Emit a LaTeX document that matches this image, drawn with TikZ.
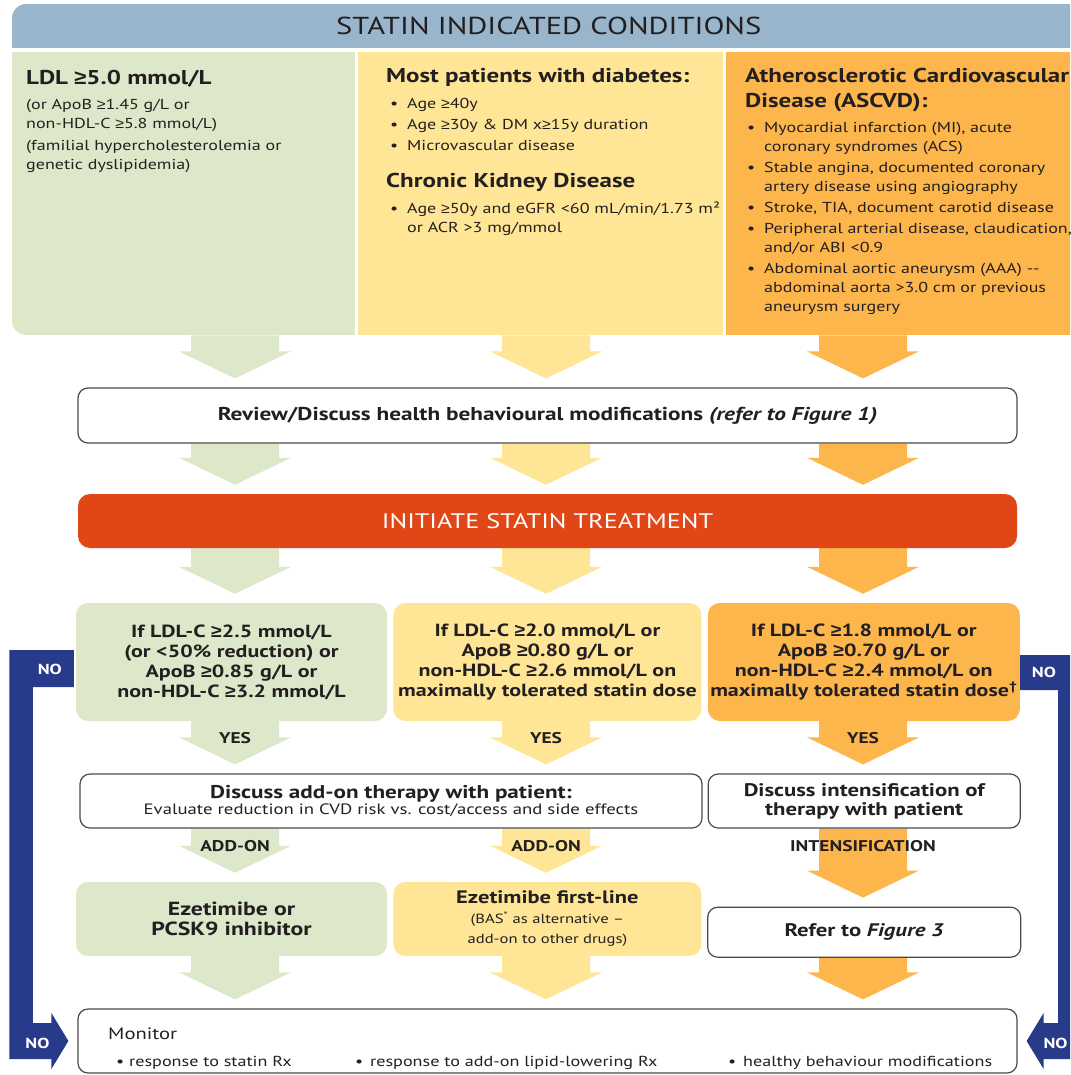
\documentclass[tikz,border=0pt]{standalone}
\usepackage{fontspec}
\setmainfont{PT Sans}[FakeStretch=1.25]
\newfontfamily\gqfont{Liberation Sans}[FakeStretch=1.1]
\usepackage{xcolor}
\usepackage{tikz}
\usetikzlibrary{positioning, calc, backgrounds}

\definecolor{hdrblue}{HTML}{98B5CC}
\definecolor{ldlgreen}{HTML}{DDE8CA}
\definecolor{dmyellow}{HTML}{FFE596}
\definecolor{cvdorange}{HTML}{FDB64C}
\definecolor{statinred}{HTML}{E14716}
\definecolor{nonavy}{HTML}{283B8A}
\definecolor{ink}{HTML}{231F20}
\definecolor{rim}{HTML}{4A4A4A}

\newcommand{\fs}[2]{\fontsize{#1}{#2}\selectfont}
\newcommand{\gq}{{\gqfont ≥}}
\newcommand{\bul}{\makebox[17pt][l]{\textbullet}}
\newcommand{\blockarrow}[4]{%
  \fill[#1] ([xshift=-44pt]#2 |- #3.south) -- ([xshift=44pt]#2 |- #3.south)
    -- ([xshift=44pt,yshift=36pt]#2 |- #4.north) -- ([xshift=56pt,yshift=36pt]#2 |- #4.north)
    -- ([yshift=9pt]#2 |- #4.north) -- ([xshift=-56pt,yshift=36pt]#2 |- #4.north)
    -- ([xshift=-44pt,yshift=36pt]#2 |- #4.north) -- cycle;}

\begin{document}
\begin{tikzpicture}[
    x=1pt, y=-1pt,
    panel/.style={rectangle, inner sep=0pt, anchor=north west},
    panelhead/.style={anchor=base west, inner sep=0pt, text=ink, font=\bfseries\fs{20}{25}},
    paneltext/.style={anchor=north west, align=left, inner sep=0pt, text=ink, font=\fs{14.4}{19}},
    whitebox/.style={rectangle, rounded corners=10pt, draw=rim, line width=1.2pt, fill=white, text=ink, align=center, inner sep=0pt},
    testbox/.style={rectangle, rounded corners=12pt, align=center, text=ink, font=\bfseries\fs{17.6}{20}, minimum height=118pt, inner sep=0pt},
    drugbox/.style={rectangle, rounded corners=12pt, align=center, text=ink, font=\bfseries\fs{19}{20}, minimum height=74pt, inner sep=0pt},
    tag/.style={text=ink, font=\bfseries\fs{15.5}{17}, inner sep=1pt},
    nolabel/.style={text=white, font=\bfseries\fs{14.5}{16}, inner sep=0pt}
]
\useasboundingbox (0,0) rectangle (1070,1075);
\clip (0,0) rectangle (1070,1075);

\coordinate (gcol) at (235,0);
\coordinate (ycol) at (546,0);
\coordinate (ocol) at (863,0);

\begin{scope}
\clip[rounded corners=14pt] (12,4) rectangle (1100,335);
\node[panel, fill=hdrblue, minimum width=1073pt, minimum height=44pt, text=ink, font=\fs{24.5}{28}] (hdr) at (12,4) {STATIN INDICATED CONDITIONS};
\node[panel, fill=ldlgreen, minimum width=343pt, minimum height=283pt] (ldl) at (12,52) {};
\node[panel, fill=dmyellow, minimum width=365pt, minimum height=283pt] (dm) at (358,52) {};
\node[panel, fill=cvdorange, minimum width=364pt, minimum height=283pt] (cvd) at (726,52) {};
\end{scope}

\node[panelhead] (ldlhead) at (26,85) {LDL \gq5.0 mmol/L};
\node[paneltext] (ldlbody) at (26,99) {(or ApoB \gq1.45 g/L or\\non-HDL-C \gq5.8 mmol/L)\\[3pt](familial hypercholesterolemia or\\genetic dyslipidemia)};

\node[panelhead] (dmhead) at (386,83) {Most patients with diabetes:};
\node[paneltext] (dmbody) at (390,98) {\bul Age \gq40y\\[2pt]\bul Age \gq30y \& DM x\gq15y duration\\[2pt]\bul Microvascular disease};
\node[panelhead] (ckdhead) at (386,188) {Chronic Kidney Disease};
\node[paneltext] (ckdbody) at (390,202) {\bul Age \gq50y and eGFR <60 mL/min/1.73 m²\\\hspace*{17pt}or ACR >3 mg/mmol};

\node[panelhead] (cvdhead) at (745,83) {Atherosclerotic Cardiovascular};
\node[panelhead] (cvdhead2) at (745,108) {Disease (ASCVD):};
\node[paneltext] (cvdbody) at (747,122) {\bul Myocardial infarction (MI), acute\\\hspace*{17pt}coronary syndromes (ACS)\\[2pt]\bul Stable angina, documented coronary\\\hspace*{17pt}artery disease using angiography\\[2pt]\bul Stroke, TIA, document carotid disease\\[2pt]\bul Peripheral arterial disease, claudication,\\\hspace*{17pt}and/or ABI <0.9\\[2pt]\bul Abdominal aortic aneurysm (AAA) -{}-\\\hspace*{17pt}abdominal aorta >3.0 cm or previous\\\hspace*{17pt}aneurysm surgery};

\node[whitebox, minimum width=939pt, minimum height=55pt, font=\bfseries\fs{18.6}{20}] (review) at (547.5,415.5) {Review/Discuss health behavioural modifications \textit{(refer to Figure 1)}};
\node[rectangle, rounded corners=12pt, fill=statinred, text=white, minimum width=939pt, minimum height=54pt, font=\fs{21}{24}] (initiate) at (547.5,521) {INITIATE STATIN TREATMENT};

\node[testbox, fill=ldlgreen, minimum width=311pt] (gtest) at (231.5,662) {If LDL-C \gq2.5 mmol/L\\(or <50\% reduction) or\\ApoB \gq0.85 g/L or\\non-HDL-C \gq3.2 mmol/L};
\node[testbox, fill=dmyellow, minimum width=308pt, right=6pt of gtest] (ytest) {If LDL-C \gq2.0 mmol/L or\\ApoB \gq0.80 g/L or\\non-HDL-C \gq2.6 mmol/L on\\maximally tolerated statin dose};
\node[testbox, fill=cvdorange, minimum width=312pt, right=6pt of ytest] (otest) {If LDL-C \gq1.8 mmol/L or\\ApoB \gq0.70 g/L or\\non-HDL-C \gq2.4 mmol/L on\\maximally tolerated statin dose\textsuperscript{†}};

\node[whitebox, minimum width=622pt, minimum height=54pt] (addon) at (391,801) {\bfseries\fs{18.5}{19}Discuss add-on therapy with patient:\\\fs{15}{19}Evaluate reduction in CVD risk vs. cost/access and side effects};
\node[whitebox, minimum width=312pt, minimum height=54pt, right=5pt of addon, font=\bfseries\fs{18.2}{19}] (intens) {Discuss intensification of\\therapy with patient};

\node[drugbox, fill=ldlgreen, minimum width=311pt] (ezpcsk) at (231.5,919) {Ezetimibe or\\PCSK9 inhibitor};
\node[drugbox, fill=dmyellow, minimum width=308pt, right=6pt of ezpcsk] (ezfirst) {\bfseries\fs{18}{19}Ezetimibe first-line\\\mdseries\fs{13.3}{19}(BAS\textsuperscript{*} as alternative –\\\mdseries\fs{13.3}{19}add-on to other drugs)};
\node[whitebox, minimum width=313pt, minimum height=50pt, below=78pt of intens, font=\bfseries\fs{18.2}{20}] (refer) {Refer to \textit{Figure 3}};

\node[whitebox, minimum width=939pt, minimum height=64pt] (monitor) at (547.5,1041) {};
\node[anchor=base west, inner sep=0pt, text=ink, font=\fs{16.5}{20}] (montitle) at (108,1039) {Monitor};
\node[anchor=base west, inner sep=0pt, text=ink, font=\fs{14.5}{17}] (mon1) at (116,1066) {\makebox[13pt][l]{\textbullet}response to statin Rx};
\node[anchor=base west, inner sep=0pt, text=ink, font=\fs{14.5}{17}] (mon2) at (355,1066) {\makebox[15pt][l]{\textbullet}response to add-on lipid-lowering Rx};
\node[anchor=base west, inner sep=0pt, text=ink, font=\fs{14.5}{17}] (mon3) at (728,1066) {\makebox[15pt][l]{\textbullet}healthy behaviour modifications};

\begin{scope}[on background layer]
\blockarrow{ldlgreen}{gcol}{ldl}{review}
\blockarrow{dmyellow}{ycol}{dm}{review}
\blockarrow{cvdorange}{ocol}{cvd}{review}
\blockarrow{ldlgreen}{gcol}{review}{initiate}
\blockarrow{dmyellow}{ycol}{review}{initiate}
\blockarrow{cvdorange}{ocol}{review}{initiate}
\blockarrow{ldlgreen}{gcol}{initiate}{gtest}
\blockarrow{dmyellow}{ycol}{initiate}{ytest}
\blockarrow{cvdorange}{ocol}{initiate}{otest}
\blockarrow{ldlgreen}{gcol}{gtest}{addon}
\blockarrow{dmyellow}{ycol}{ytest}{addon}
\blockarrow{cvdorange}{ocol}{otest}{intens}
\blockarrow{ldlgreen}{gcol}{addon}{ezpcsk}
\blockarrow{dmyellow}{ycol}{addon}{ezfirst}
\blockarrow{cvdorange}{ocol}{intens}{refer}
\blockarrow{ldlgreen}{gcol}{ezpcsk}{monitor}
\blockarrow{dmyellow}{ycol}{ezfirst}{monitor}
\blockarrow{cvdorange}{ocol}{refer}{monitor}
\end{scope}

\node[tag] (yes1) at ($(gcol |- gtest.south)+(0,17)$) {YES};
\node[tag] (yes2) at ($(ycol |- ytest.south)+(0,17)$) {YES};
\node[tag] (yes3) at ($(ocol |- otest.south)+(0,17)$) {YES};
\node[tag] (add1) at ($(gcol |- addon.south)+(0,17)$) {ADD-ON};
\node[tag] (add2) at ($(ycol |- addon.south)+(0,17)$) {ADD-ON};
\node[tag] (intensify) at ($(ocol |- intens.south)+(0,17)$) {INTENSIFICATION};

\fill[nonavy] ([xshift=-2pt,yshift=12pt]gtest.west) -- ++(0,37) -- ++(-41,0)
  |- ([xshift=-26pt,yshift=18pt]monitor.west) -- ++(0,-10) -- ([xshift=-9pt]monitor.west)
  -- ++(-17,28) -- ++(0,-10) -- ++(-42,0) |- ([xshift=-2pt,yshift=12pt]gtest.west) -- cycle;
\fill[nonavy] ([yshift=7pt]otest.east) -- ++(0,35) -- ++(38,0)
  |- ([xshift=26pt,yshift=18pt]monitor.east) -- ++(0,-10) -- ([xshift=9pt]monitor.east)
  -- ++(17,28) -- ++(0,-10) -- ++(42,0) |- ([yshift=7pt]otest.east) -- cycle;
\node[nolabel] (notl) at ($(gtest.west)+(-26,7)$) {NO};
\node[nolabel] (nobl) at ($(monitor.west)+(-40,2)$) {NO};
\node[nolabel] (notr) at ($(otest.east)+(24,10)$) {NO};
\node[nolabel] (nobr) at ($(monitor.east)+(38,2)$) {NO};

\end{tikzpicture}
\end{document}
